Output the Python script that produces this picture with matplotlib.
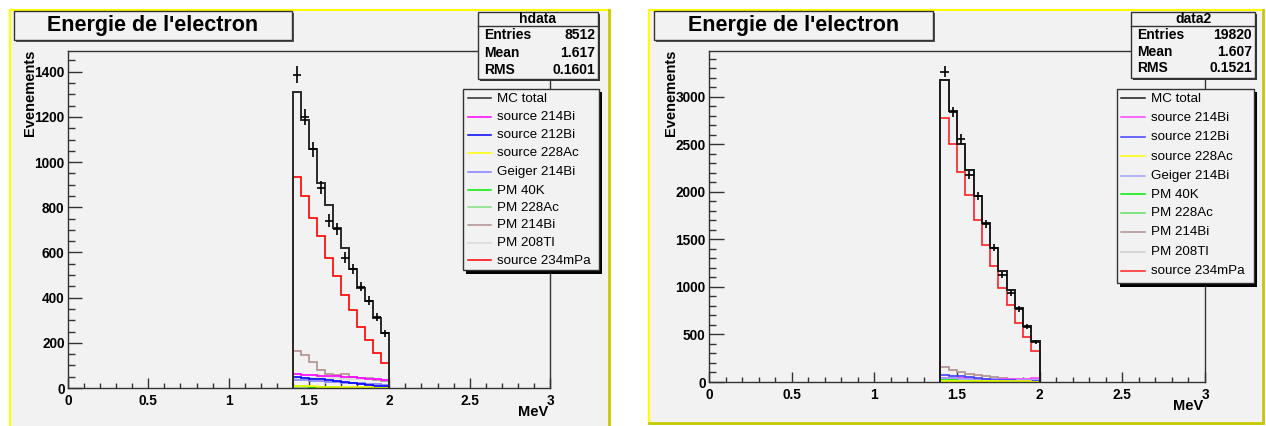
import numpy as np
import matplotlib
matplotlib.use("Agg")
import matplotlib.pyplot as plt
from matplotlib.patches import Rectangle
from matplotlib.lines import Line2D
import matplotlib.transforms as mtransforms
from matplotlib.ticker import MultipleLocator, FuncFormatter

plt.rcParams['font.family'] = ['Liberation Sans', 'DejaVu Sans']

# ---------------- data ----------------
bin_edges = [1.40, 1.45, 1.50, 1.55, 1.60, 1.65, 1.70, 1.75, 1.80, 1.85, 1.90, 1.95, 2.00]

legend_labels = ["MC total", "source 214Bi", "source 212Bi", "source 228Ac", "Geiger 214Bi",
                 "PM 40K", "PM 228Ac", "PM 214Bi", "PM 208Tl", "source 234mPa"]

# left panel (hdata)
data_L = [1387, 1199, 1057, 887, 741, 703, 577, 526, 449, 387, 316, 242]
mc_total_L = [1310, 1187, 1057, 907, 808, 708, 619, 526, 444, 385, 309, 242]
src214Bi_L = [60, 58, 57, 55, 54, 52, 50, 48, 45, 42, 38, 35]
src212Bi_L = [48, 45, 42, 38, 34, 30, 26, 22, 18, 14, 10, 8]
src228Ac_L = [8, 8, 7, 6, 6, 5, 4, 4, 3, 3, 2, 2]
geiger214Bi_L = [36, 34, 32, 30, 28, 26, 24, 22, 20, 18, 16, 14]
pm40K_L = [10, 8, 6, 4, 3, 2, 2, 1, 1, 1, 0, 0]
pm228Ac_L = [6, 5, 5, 4, 3, 3, 2, 2, 2, 1, 1, 1]
pm214Bi_L = [165, 146, 117, 80, 62, 58, 62, 50, 43, 46, 35, 31]
pm208Tl_L = [45, 45, 44, 44, 43, 43, 42, 42, 42, 40, 38, 36]
src234mPa_L = [932, 851, 752, 675, 575, 496, 412, 346, 272, 213, 156, 112]

# right panel (data2)
data_R = [3266, 2845, 2558, 2179, 1958, 1663, 1414, 1126, 934, 768, 582, 424]
mc_total_R = [3179, 2856, 2505, 2232, 1958, 1677, 1414, 1172, 968, 776, 593, 432]
src214Bi_R = [45, 42, 40, 38, 36, 34, 32, 30, 30, 32, 35, 40]
src212Bi_R = [75, 68, 58, 48, 40, 32, 26, 20, 16, 12, 10, 8]
src228Ac_R = [15, 15, 14, 13, 12, 11, 10, 9, 8, 7, 6, 5]
geiger214Bi_R = [40, 38, 36, 34, 32, 30, 28, 26, 24, 22, 20, 18]
pm40K_R = [20, 16, 12, 9, 7, 5, 4, 3, 2, 2, 1, 1]
pm228Ac_R = [12, 11, 10, 9, 8, 7, 6, 5, 4, 3, 3, 2]
pm214Bi_R = [161, 126, 100, 85, 70, 58, 48, 38, 30, 24, 19, 15]
pm208Tl_R = [40, 40, 38, 36, 35, 34, 33, 32, 32, 31, 30, 30]
src234mPa_R = [2782, 2502, 2207, 1968, 1705, 1442, 1221, 993, 811, 624, 470, 326]

stats_L = ("hdata", "8512", "1.617", "0.1601")
stats_R = ("data2", "19820", "1.607", "0.1521")

colors_L = ["#2a2a2a", "#ff00ff", "#0000ff", "#ffff00", "#8080ff",
            "#00ee00", "#80e080", "#b09090", "#d8d8d8", "#ff0000"]
colors_R = ["#1a1a1a", "#ff40ff", "#4040ff", "#ffff00", "#a0a0ff",
            "#00ee00", "#60e060", "#b09090", "#d0d0d0", "#ff2020"]

# ---------------- figure ----------------
W, H = 1266, 426
fig = plt.figure(figsize=(W / 100, H / 100), dpi=100, facecolor="white")
T = mtransforms.Affine2D().scale(1 / W, -1 / H).translate(0, 1) + fig.transFigure

BG = "#f2f2f2"


def rect(x0, y0, x1, y1, **kw):
    r = Rectangle((x0, y0), x1 - x0, y1 - y0, transform=T, **kw)
    fig.add_artist(r)
    return r


def line(xs, ys, **kw):
    l = Line2D(xs, ys, transform=T, **kw)
    fig.add_artist(l)
    return l


def text(x, y, s, **kw):
    return fig.text(x, y, s, transform=T, **kw)


def panel(x0, y0, x1, y1):
    rect(x0, y0, x1, y1, facecolor=BG, edgecolor="none", zorder=-10)
    line([x0, x0], [y1, y0], color="#ffff00", lw=1.5, zorder=-9)
    line([x0, x1], [y0, y0], color="#ffff00", lw=1.5, zorder=-9)
    line([x1, x1], [y0, y1], color="#c8c800", lw=2, zorder=-9)
    line([x0, x1], [y1, y1], color="#c8c800", lw=2, zorder=-9)


def px_axes(x0, y0, x1, y1):
    return fig.add_axes([x0 / W, 1 - y1 / H, (x1 - x0) / W, (y1 - y0) / H])


def draw_panel(geom, series, data, ymax, ymajor, yminor, colors, stats, legend_geom):
    (px0, py0, px1, py1), (ax0, ay0, ax1, ay1), (tx0, tx1) = geom
    panel(px0, py0, px1, py1)
    ax = px_axes(ax0, ay0, ax1, ay1)
    ax.set_facecolor("none")
    ax.set_xlim(0, 3)
    ax.set_ylim(0, ymax)
    for s in ax.spines.values():
        s.set_color("#333333")
        s.set_linewidth(1.0)
    axw = ax1 - ax0
    axh = ay1 - ay0
    ax.xaxis.set_major_locator(MultipleLocator(0.5))
    ax.xaxis.set_minor_locator(MultipleLocator(0.1))
    ax.yaxis.set_major_locator(MultipleLocator(ymajor))
    ax.yaxis.set_minor_locator(MultipleLocator(yminor))
    fmt = FuncFormatter(lambda v, p: "%g" % v)
    ax.xaxis.set_major_formatter(fmt)
    ax.yaxis.set_major_formatter(fmt)
    ax.tick_params(axis="x", which="major", direction="in", length=0.03 * axh * 0.72,
                   width=1, color="#333333", pad=4, labelsize=9.8)
    ax.tick_params(axis="x", which="minor", direction="in", length=0.015 * axh * 0.72,
                   width=1, color="#333333")
    ax.tick_params(axis="y", which="major", direction="in", length=0.03 * axw * 0.72,
                   width=1, color="#333333", pad=2.5, labelsize=9.8)
    ax.tick_params(axis="y", which="minor", direction="in", length=0.015 * axw * 0.72,
                   width=1, color="#333333")
    ax.tick_params(top=False, right=False, which="both")
    for lab in ax.get_xticklabels() + ax.get_yticklabels():
        lab.set_fontweight("bold")

    # histograms: MC total first, then components
    order = [0, 7, 8, 1, 4, 2, 6, 5, 3, 9]
    for i in order:
        ax.stairs(series[i], bin_edges, baseline=0, fill=False,
                  color=colors[i], lw=1.4 if i == 0 else 1.2, zorder=2 + (i == 0))
    centers = [(bin_edges[k] + bin_edges[k + 1]) / 2 for k in range(len(data))]
    halfw = [(bin_edges[k + 1] - bin_edges[k]) / 2 for k in range(len(data))]
    ax.errorbar(centers, data, yerr=np.sqrt(data), xerr=halfw, fmt="none",
                ecolor="black", elinewidth=1.2, capsize=0, zorder=4)

    # labels
    text(ax0 - 38, ay0 - 1, "Evenements", rotation=90, ha="center", va="top",
         fontsize=10.5, fontweight="bold")
    text(ax1 - 2, ay1 + 24, "MeV", ha="right", va="center", fontsize=10.5, fontweight="bold")

    # title box
    rect(tx0 + 1.5, 12.5, tx1 + 1.5, 41.5, facecolor="#555555", edgecolor="none", zorder=5)
    rect(tx0, 11, tx1, 40, facecolor=BG, edgecolor="#333333", lw=1, zorder=5)
    text((tx0 + tx1) / 2, 26, "Energie de l'electron", ha="center", va="center",
         fontsize=15.5, fontweight="bold", zorder=6)

    # stats box
    sx0, sy0, sx1, sy1, hline = legend_geom["stats"]
    rect(sx0 + 1.5, sy0 + 1.5, sx1 + 1.5, sy1 + 1.5, facecolor="#333333", edgecolor="none", zorder=5)
    rect(sx0, sy0, sx1, sy1, facecolor=BG, edgecolor="#333333", lw=1, zorder=5)
    line([sx0, sx1], [hline, hline], color="#333333", lw=1, zorder=6)
    text((sx0 + sx1) / 2, 19, stats[0], ha="center", va="center", fontsize=10,
         fontweight="bold", zorder=6)
    rows = [("Entries", stats[1]), ("Mean", stats[2]), ("RMS", stats[3])]
    for (lab, val), yy in zip(rows, legend_geom["stat_rows"]):
        text(sx0 + 6, yy, lab, ha="left", va="center", fontsize=10, fontweight="bold", zorder=6)
        text(sx1 - 3, yy, val, ha="right", va="center", fontsize=10, fontweight="bold", zorder=6)

    # legend box
    lx0, ly0, lx1, ly1 = legend_geom["box"]
    rect(lx0 + 3, ly0 + 3, lx1 + 3, ly1 + 4, facecolor="black", edgecolor="none", zorder=5)
    rect(lx0, ly0, lx1, ly1, facecolor=BG, edgecolor="#333333", lw=1, zorder=5)
    sx_a, sx_b, tx = legend_geom["sample"]
    for lab, col, yy in zip(legend_labels, colors, legend_geom["rows"]):
        line([sx_a, sx_b], [yy, yy], color=col, lw=1.1, zorder=6)
        text(tx, yy + 0.5, lab, ha="left", va="center", fontsize=9.6, zorder=6)
    return ax


series_L = [mc_total_L, src214Bi_L, src212Bi_L, src228Ac_L, geiger214Bi_L,
            pm40K_L, pm228Ac_L, pm214Bi_L, pm208Tl_L, src234mPa_L]
series_R = [mc_total_R, src214Bi_R, src212Bi_R, src228Ac_R, geiger214Bi_R,
            pm40K_R, pm228Ac_R, pm214Bi_R, pm208Tl_R, src234mPa_R]

draw_panel(((10, 10, 609, 430), (68, 51, 550, 388), (14, 292)),
           series_L, data_L, 1492, 200, 50, colors_L, stats_L,
           {"stats": (478, 12, 598, 79, 25.5),
            "stat_rows": [35, 53, 69.5],
            "box": (463, 89, 599, 270),
            "sample": (468, 491, 497),
            "rows": [98.3, 116.7, 135, 152.7, 171.7, 190, 207.3, 225, 242.7, 260]})

draw_panel(((649, 10, 1263, 423), (709, 51, 1205, 382), (654, 933)),
           series_R, data_R, 3484, 500, 100, colors_R, stats_R,
           {"stats": (1131, 12, 1255, 78, 25.5),
            "stat_rows": [35, 52.3, 68.5],
            "box": (1117, 89, 1254, 283),
            "sample": (1121, 1145, 1151),
            "rows": [98.3, 117.3, 136.7, 156, 176, 194.3, 212.7, 231.7, 251.7, 270.7]})

fig.savefig("out.png", dpi=100, facecolor="white")
